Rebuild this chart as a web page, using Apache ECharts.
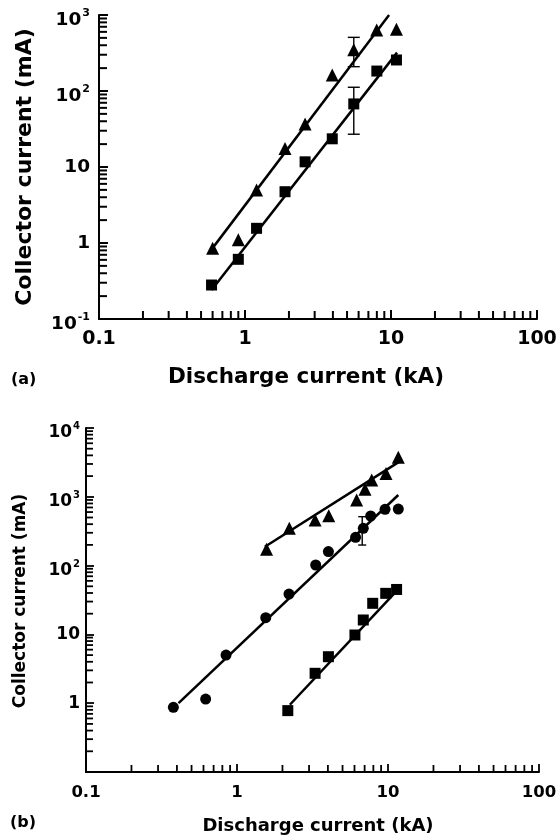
<!DOCTYPE html>
<html>
<head>
<meta charset="utf-8">
<script src="https://cdn.jsdelivr.net/npm/echarts@6/dist/echarts.min.js"></script>
<style>
html,body{margin:0;padding:0;background:#fff;}
#chart{width:560px;height:840px;}
</style>
</head>
<body>
<div id="chart"></div>
<script>
// ---------- Data: panel (a) ----------
const aTriX = [0.60, 0.90, 1.20, 1.88, 2.58, 3.96, 5.56, 7.98, 10.9];
const aTriY = [0.85, 1.10, 4.98, 17.5, 36.8, 162, 350, 634, 650];
const aSqX  = [0.59, 0.90, 1.20, 1.88, 2.58, 3.96, 5.56, 8.0, 10.9];
const aSqY  = [0.28, 0.61, 1.56, 4.73, 11.7, 23.5, 67.6, 183, 256];
const aTriFitX = [0.575, 9.7];
const aTriFitY = [0.77, 1000];
const aSqFitX  = [0.59, 11.0];
const aSqFitY  = [0.24, 320];
const aErrX    = [5.56, 5.56];
const aErrLow  = [209, 27];
const aErrHigh = [508, 112];

// ---------- Data: panel (b) ----------
const bCirX = [0.379, 0.62, 0.846, 1.55, 2.21, 3.32, 4.03, 6.1, 6.86, 7.68, 9.56, 11.7];
const bCirY = [0.87, 1.15, 5.0, 17.5, 38.6, 102, 160, 258, 348, 526, 658, 664];
const bTriX = [1.57, 2.22, 3.29, 4.05, 6.2, 7.04, 7.8, 9.7, 11.7];
const bTriY = [173, 348, 460, 531, 897, 1285, 1753, 2190, 3760];
const bSqX  = [2.17, 3.29, 4.03, 6.04, 6.86, 7.92, 9.66, 11.4];
const bSqY  = [0.78, 2.72, 4.74, 9.8, 16.2, 28.3, 39.5, 45];
const bTriFitX = [1.53, 11.9];
const bTriFitY = [188, 3240];
const bCirFitX = [0.41, 11.7];
const bCirFitY = [1.0, 1062];
const bSqFitX  = [2.24, 11.3];
const bSqFitY  = [0.95, 42];
const bErrX    = [6.75];
const bErrLow  = [199];
const bErrHigh = [514];

// ---------- Axis ranges & minor tick values ----------
const xMin = 0.1, xMax = 100;
const aYMin = 0.1, aYMax = 1000;
const bYMin = 0.1, bYMax = 10000;
const xMinorTicks = [0.2,0.3,0.4,0.5,0.6,0.7,0.8,0.9, 2,3,4,5,6,7,8,9, 20,30,40,50,60,70,80,90];
const aYMinorTicks = [0.2,0.3,0.4,0.5,0.6,0.7,0.8,0.9, 2,3,4,5,6,7,8,9, 20,30,40,50,60,70,80,90, 200,300,400,500,600,700,800,900];
const bYMinorTicks = [0.2,0.3,0.4,0.5,0.6,0.7,0.8,0.9, 2,3,4,5,6,7,8,9, 20,30,40,50,60,70,80,90, 200,300,400,500,600,700,800,900, 2000,3000,4000,5000,6000,7000,8000,9000];

const FONT = 'DejaVu Sans';
const zip = (xs, ys) => xs.map((x, i) => [x, ys[i]]);

function xFmt(v) {
  const e = Math.round(Math.log10(v));
  return ['0.1', '1', '10', '100'][e + 1];
}
function yFmtFactory(hideMin) {
  return function (v) {
    const e = Math.round(Math.log10(v));
    if (hideMin && e === -1) return '';
    if (e === 0) return '1';
    if (e === 1) return '10';
    return '{b|10}{s|' + (e < 0 ? '-' + (-e) : e) + '}';
  };
}

function makeRich(size, supSize) {
  return {
    b: { fontFamily: FONT, fontWeight: 'bold', fontSize: size, color: '#000', padding: [10, 0, 0, 0] },
    s: { fontFamily: FONT, fontWeight: 'bold', fontSize: supSize, color: '#000', verticalAlign: 'top', padding: [7, 0, 0, 1] }
  };
}

// minor ticks: item = [x, y, orientation]  (0 = on x axis, pointing up; 1 = on y axis, pointing right)
function tickRender(len, w) {
  return function (params, api) {
    const p = api.coord([api.value(0), api.value(1)]);
    const o = api.value(2);
    const shape = o === 0
      ? { x1: p[0], y1: p[1], x2: p[0], y2: p[1] - len }
      : { x1: p[0], y1: p[1], x2: p[0] + len, y2: p[1] };
    return { type: 'line', shape: shape, style: { stroke: '#000', lineWidth: w } };
  };
}
function tickData(xTicks, yTicks, yMin) {
  return xTicks.map(v => [v, yMin, 0]).concat(yTicks.map(v => [xMin, v, 1]));
}
function errRender(cap) {
  return function (params, api) {
    const x = api.value(0);
    const lo = api.coord([x, api.value(1)]);
    const hi = api.coord([x, api.value(2)]);
    const st = { stroke: '#000', lineWidth: 1.4 };
    return { type: 'group', children: [
      { type: 'line', shape: { x1: lo[0], y1: lo[1], x2: hi[0], y2: hi[1] }, style: st },
      { type: 'line', shape: { x1: lo[0] - cap, y1: lo[1], x2: lo[0] + cap, y2: lo[1] }, style: st },
      { type: 'line', shape: { x1: hi[0] - cap, y1: hi[1], x2: hi[0] + cap, y2: hi[1] }, style: st }
    ] };
  };
}

function xAxisCfg(gi, size, margin, tickLen, tickW) {
  return {
    type: 'log', logBase: 10, gridIndex: gi, min: xMin, max: xMax,
    axisLine: { onZero: false, lineStyle: { color: '#000', width: 2 } },
    axisTick: { inside: true, length: tickLen, lineStyle: { color: '#000', width: tickW } },
    splitLine: { show: false },
    axisLabel: { formatter: xFmt, fontFamily: FONT, fontWeight: 'bold', fontSize: size, color: '#000', margin: margin }
  };
}
function yAxisCfg(gi, mn, mx, size, supSize, margin, hideMin, tickLen, tickW) {
  return {
    type: 'log', logBase: 10, gridIndex: gi, min: mn, max: mx,
    axisLine: { onZero: false, lineStyle: { color: '#000', width: 2 } },
    axisTick: { inside: true, length: tickLen, lineStyle: { color: '#000', width: tickW } },
    splitLine: { show: false },
    axisLabel: { formatter: yFmtFactory(hideMin), fontFamily: FONT, fontWeight: 'bold', fontSize: size,
      color: '#000', margin: margin, rich: makeRich(size, supSize) }
  };
}

function scatter(xi, data, symbol, size) {
  return { type: 'scatter', xAxisIndex: xi, yAxisIndex: xi, data: data, symbol: symbol, symbolSize: size,
    itemStyle: { color: '#000', opacity: 1 }, z: 3 };
}
function fit(xi, data) {
  return { type: 'line', xAxisIndex: xi, yAxisIndex: xi, data: data, symbol: 'none',
    lineStyle: { color: '#000', width: 2.5 }, z: 2 };
}

const option = {
  animation: false,
  backgroundColor: '#fff',
  grid: [
    { left: 99, top: 15, width: 438, height: 304 },
    { left: 86, top: 428, width: 453, height: 344 }
  ],
  xAxis: [xAxisCfg(0, 19, 11, 9, 2), xAxisCfg(1, 16.5, 12, 8, 1.8)],
  yAxis: [yAxisCfg(0, aYMin, aYMax, 18.5, 11, 9, false, 9, 2), yAxisCfg(1, bYMin, bYMax, 17, 10, 6, true, 8, 1.8)],
  series: [
    // panel (a)
    fit(0, zip(aTriFitX, aTriFitY)),
    fit(0, zip(aSqFitX, aSqFitY)),
    scatter(0, zip(aTriX, aTriY), 'triangle', 13),
    scatter(0, zip(aSqX, aSqY), 'rect', 11),
    { type: 'custom', xAxisIndex: 0, yAxisIndex: 0, renderItem: errRender(6),
      data: aErrX.map((x, i) => [x, aErrLow[i], aErrHigh[i]]), encode: { x: 0, y: [1, 2] }, z: 4 },
    { type: 'custom', xAxisIndex: 0, yAxisIndex: 0, renderItem: tickRender(8, 2), clip: false,
      data: tickData(xMinorTicks, aYMinorTicks, aYMin), encode: { x: 0, y: 1 }, z: 5, silent: true },
    // panel (b)
    fit(1, zip(bTriFitX, bTriFitY)),
    fit(1, zip(bCirFitX, bCirFitY)),
    fit(1, zip(bSqFitX, bSqFitY)),
    scatter(1, zip(bTriX, bTriY), 'triangle', 13),
    scatter(1, zip(bCirX, bCirY), 'circle', 11),
    scatter(1, zip(bSqX, bSqY), 'rect', 11),
    { type: 'custom', xAxisIndex: 1, yAxisIndex: 1, renderItem: errRender(4),
      data: bErrX.map((x, i) => [x, bErrLow[i], bErrHigh[i]]), encode: { x: 0, y: [1, 2] }, z: 4 },
    { type: 'custom', xAxisIndex: 1, yAxisIndex: 1, renderItem: tickRender(7, 1.8), clip: false,
      data: tickData(xMinorTicks, bYMinorTicks, bYMin), encode: { x: 0, y: 1 }, z: 5, silent: true }
  ],
  graphic: [
    { type: 'text', x: 306, y: 377, style: { text: 'Discharge current (kA)', fontFamily: FONT, fontWeight: 'bold',
      fontSize: 21.5, fill: '#000', textAlign: 'center', textVerticalAlign: 'middle' } },
    { type: 'text', x: 25, y: 167, rotation: Math.PI / 2, style: { text: 'Collector current (mA)', fontFamily: FONT,
      fontWeight: 'bold', fontSize: 22, fill: '#000', textAlign: 'center', textVerticalAlign: 'middle' } },
    { type: 'text', x: 11, y: 380, style: { text: '(a)', fontFamily: FONT, fontWeight: 'bold', fontSize: 16,
      fill: '#000', textAlign: 'left', textVerticalAlign: 'middle' } },
    { type: 'text', x: 318, y: 826, style: { text: 'Discharge current (kA)', fontFamily: FONT, fontWeight: 'bold',
      fontSize: 18, fill: '#000', textAlign: 'center', textVerticalAlign: 'middle' } },
    { type: 'text', x: 21, y: 601, rotation: Math.PI / 2, style: { text: 'Collector current (mA)', fontFamily: FONT,
      fontWeight: 'bold', fontSize: 17, fill: '#000', textAlign: 'center', textVerticalAlign: 'middle' } },
    { type: 'text', x: 10, y: 823, style: { text: '(b)', fontFamily: FONT, fontWeight: 'bold', fontSize: 16,
      fill: '#000', textAlign: 'left', textVerticalAlign: 'middle' } }
  ]
};

const chart = echarts.init(document.getElementById('chart'), null, { renderer: 'canvas' });
chart.setOption(option);
</script>
</body>
</html>
